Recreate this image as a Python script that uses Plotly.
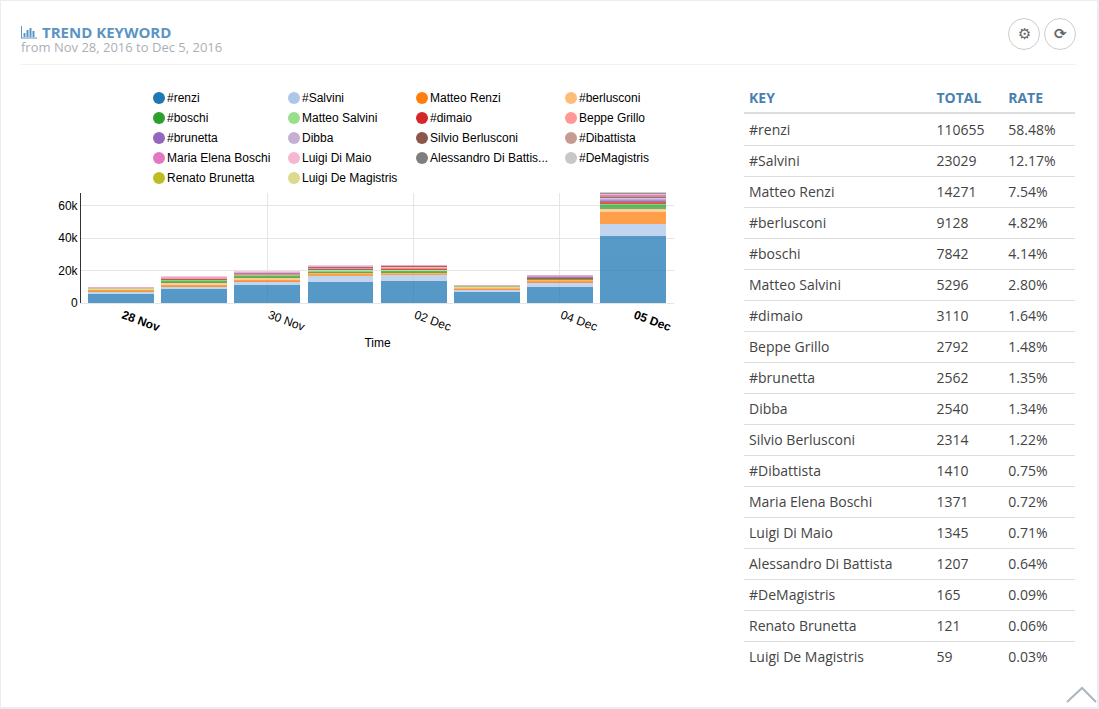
import plotly.graph_objects as go

W, H = 1099, 709

days = ['2016-11-28', '2016-11-29', '2016-11-30', '2016-12-01',
        '2016-12-02', '2016-12-03', '2016-12-04', '2016-12-05']

# table
keys = ['#renzi', '#Salvini', 'Matteo Renzi', '#berlusconi', '#boschi', 'Matteo Salvini',
        '#dimaio', 'Beppe Grillo', '#brunetta', 'Dibba', 'Silvio Berlusconi', '#Dibattista',
        'Maria Elena Boschi', 'Luigi Di Maio', 'Alessandro Di Battista', '#DeMagistris',
        'Renato Brunetta', 'Luigi De Magistris']
totals = [110655, 23029, 14271, 9128, 7842, 5296, 3110, 2792, 2562, 2540, 2314, 1410,
          1371, 1345, 1207, 165, 121, 59]
rates = ['58.48%', '12.17%', '7.54%', '4.82%', '4.14%', '2.80%', '1.64%', '1.48%', '1.35%',
         '1.34%', '1.22%', '0.75%', '0.72%', '0.71%', '0.64%', '0.09%', '0.06%', '0.03%']

# daily values per keyword
# bands too thin to see in the picture are left at 0
renzi = [5700, 8800, 11200, 13000, 13700, 6900, 10000, 41355]
salvini = [1800, 1400, 2200, 3900, 3400, 1600, 2700, 7229]
matteo_renzi = [500, 1000, 800, 1300, 1400, 700, 1200, 7371]
berlusconi = [1400, 1500, 1800, 1100, 600, 1100, 900, 1628]
boschi = [0, 1200, 1000, 600, 900, 300, 400, 3392]
matteo_salvini = [150, 800, 900, 900, 1100, 200, 400, 796]
dimaio = [0, 700, 150, 500, 400, 0, 300, 910]
grillo = [200, 200, 600, 300, 1000, 200, 190, 302]
brunetta = [0, 0, 200, 200, 200, 0, 500, 1212]
dibba = [0, 100, 250, 300, 200, 150, 500, 990]
silvio = [0, 400, 0, 500, 300, 0, 200, 614]
dibattista = [200, 200, 200, 200, 200, 100, 100, 360]
boschi_me = [0, 0, 0, 150, 150, 0, 0, 691]
di_maio = [100, 100, 100, 150, 100, 100, 100, 695]
di_battista = [0, 0, 0, 0, 0, 0, 0, 517]
demagistris = [0, 0, 0, 0, 0, 0, 0, 165]
r_brunetta = [0, 0, 0, 0, 0, 0, 0, 121]
de_magistris = [0, 0, 0, 0, 0, 0, 0, 59]

series = [renzi, salvini, matteo_renzi, berlusconi, boschi, matteo_salvini, dimaio, grillo,
          brunetta, dibba, silvio, dibattista, boschi_me, di_maio, di_battista, demagistris,
          r_brunetta, de_magistris]

colors = ['#1f77b4', '#aec7e8', '#ff7f0e', '#ffbb78', '#2ca02c', '#98df8a', '#d62728', '#ff9896',
          '#9467bd', '#c5b0d5', '#8c564b', '#c49c94', '#e377c2', '#f7b6d2', '#7f7f7f', '#c7c7c7',
          '#bcbd22', '#dbdb8d']

legend_names = list(keys)
legend_names[14] = 'Alessandro Di Battis...'

tick_days = ['2016-11-28', '2016-11-30', '2016-12-02', '2016-12-04', '2016-12-05']
tick_labels = ['<b>28 Nov</b>', '30 Nov', '02 Dec', '04 Dec', '<b>05 Dec</b>']
grid_days = ['2016-11-30', '2016-12-02', '2016-12-04']

FONT = 'Liberation Sans'
UI = 'Open Sans'


def px(x):
    return x / W


def py(y):
    return 1 - y / H


def line(x0, y0, x1, y1, color, width=1):
    return dict(type='line', xref='paper', yref='paper', x0=px(x0), x1=px(x1), y0=py(y0), y1=py(y1),
                line=dict(color=color, width=width), layer='below')


fig = go.Figure()

for i, name in enumerate(keys):
    fig.add_trace(go.Bar(x=days, y=series[i], name=name, showlegend=False,
                         marker=dict(color=colors[i], line=dict(width=0)), opacity=0.75))

fig.add_trace(go.Table(
    domain=dict(x=[px(741), px(1072)], y=[py(674), py(84)]),
    columnwidth=[188, 72, 71],
    header=dict(values=['KEY', 'TOTAL', 'RATE'], height=32, align='left',
                fill=dict(color='rgba(0,0,0,0)'), line=dict(width=0),
                font=dict(family=UI, size=14, color='#4a80b0', weight='bold')),
    cells=dict(values=[keys, totals, rates], height=31, align='left',
               fill=dict(color='rgba(0,0,0,0)'), line=dict(width=0),
               font=dict(family=UI, size=14, color='#444444')),
))

shapes = [
    dict(type='rect', xref='paper', yref='paper', x0=px(1), x1=px(1097), y0=py(707), y1=py(1),
         fillcolor='white', line=dict(width=0), layer='below'),
    line(21, 64.5, 1076, 64.5, '#eef1f5'),
    line(744, 113, 1075, 113, '#dddddd', 2),
    dict(type='path', xref='paper', yref='paper', layer='above',
         path=f'M {px(1067)} {py(702)} L {px(1082)} {py(688)} L {px(1096)} {py(702)}',
         line=dict(color='#aab6c0', width=2)),
    # bar chart icon next to the title
    line(21.5, 26, 21.5, 38, '#5b94c3'),
    line(21, 38, 37, 38, '#5b94c3'),
]
for i in range(17):
    shapes.append(line(744, 145.5 + i * 31, 1075, 145.5 + i * 31, '#dddddd'))
for x, top in [(24.5, 33), (27.5, 30), (30.5, 28), (33.5, 31)]:
    shapes.append(line(x, top, x, 37, '#5b94c3', 2))
for x0, x1 in [(1008.5, 1039.5), (1044.5, 1075.5)]:
    shapes.append(dict(type='circle', xref='paper', yref='paper', x0=px(x0), x1=px(x1), y0=py(49.5), y1=py(18.5),
                       line=dict(color='#cccccc', width=1), fillcolor='white', layer='below'))

annotations = [
    dict(text='<b>TREND KEYWORD</b>', x=px(40), y=py(32), font=dict(family=UI, size=15, color='#5b94c3')),
    dict(text='from Nov 28, 2016 to Dec 5, 2016', x=px(19), y=py(47), font=dict(family=UI, size=13, color='#aab0b7')),
]
for a in annotations:
    a.update(xref='paper', yref='paper', xanchor='left', yanchor='middle', showarrow=False)

# legend grid, four columns with a circle and a label
legend_cols = [159, 294, 422, 571]
for i, name in enumerate(legend_names):
    cx = legend_cols[i % 4]
    cy = 98 + (i // 4) * 20
    shapes.append(dict(type='circle', xref='paper', yref='paper', x0=px(cx - 6), x1=px(cx + 6),
                       y0=py(cy + 6), y1=py(cy - 6), fillcolor=colors[i], line=dict(width=0)))
    annotations.append(dict(text=name, x=px(cx + 6), y=py(cy), xref='paper', yref='paper', xanchor='left',
                            yanchor='middle', showarrow=False, font=dict(family=FONT, size=12, color='#000000')))

for glyph, x in [('\u2699', 1024), ('\u27f3', 1060)]:
    annotations.append(dict(text=f'<b>{glyph}</b>', x=px(x), y=py(34), xref='paper', yref='paper', showarrow=False,
                            xanchor='center', yanchor='middle',
                            font=dict(family='DejaVu Sans', size=15, color='#666666')))

fig.update_layout(
    width=W, height=H,
    margin=dict(l=0, r=0, t=0, b=0, pad=0, autoexpand=False),
    paper_bgcolor='#e9edf3',
    plot_bgcolor='rgba(0,0,0,0)',
    barmode='stack',
    bargap=0.1,
    font=dict(family=FONT, size=12, color='#000000'),
    shapes=shapes,
    annotations=annotations,
    showlegend=False,
    xaxis=dict(domain=[px(81), px(674)], type='date',
               range=['2016-11-27 10:52', '2016-12-05 13:27'],
               tickmode='array', tickvals=tick_days, ticktext=tick_labels, tickangle=20, ticklabelshift=2,
               ticks='', showgrid=False, showline=True, linecolor='#e5e5e5', zeroline=False,
               minor=dict(tickmode='array', tickvals=grid_days, showgrid=True, gridcolor='#e5e5e5', gridwidth=1),
               title=dict(text='Time', standoff=5, font=dict(size=12))),
    yaxis=dict(domain=[py(303), py(192.5)], range=[0, 68000],
               tickvals=[0, 20000, 40000, 60000], ticktext=['0', '20k', '40k', '60k'],
               ticks='', gridcolor='#e5e5e5', showline=True, linecolor='#333333', linewidth=1, zeroline=False),
)

fig.write_html('out.html', post_script="document.body.style.margin='0';", config=dict(displayModeBar=False))
